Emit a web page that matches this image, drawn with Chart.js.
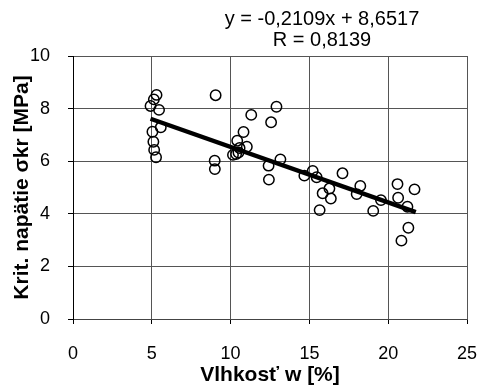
<!DOCTYPE html>
<html>
<head>
<meta charset="utf-8">
<script src="https://cdn.jsdelivr.net/npm/chart.js@4"></script>
<style>
  body { margin: 0; background: #fff; }
  #wrap { width: 481px; height: 390px; }
</style>
</head>
<body>
<div id="wrap"><canvas id="chart" width="481" height="390"></canvas></div>
<script>
// Vlhkosť w [%] a kritické napätie [MPa] - hodnoty odčítané z grafu
const moisture = [
    5.30, 5.13, 4.92, 5.46, 5.57, 5.04, 5.10, 5.15, 5.27,
    9.05, 12.91, 11.31, 12.57, 10.82, 10.42, 11.03, 10.57, 10.15, 10.35, 10.50,
    8.99, 9.00, 13.16, 12.41, 12.43,
    15.21, 14.68, 15.46, 17.10, 16.27, 15.84, 16.36, 15.65, 18.23, 18.00,
    19.54, 19.05, 20.59, 21.67, 20.63, 21.22, 21.28, 20.84
];
const stress = [
    8.52, 8.35, 8.10, 7.95, 7.29, 7.12, 6.74, 6.43, 6.15,
    8.51, 8.07, 7.76, 7.48, 7.11, 6.78, 6.55, 6.50, 6.24, 6.27, 6.33,
    6.02, 5.70, 6.07, 5.83, 5.30,
    5.63, 5.45, 5.39, 5.54, 4.96, 4.78, 4.58, 4.14, 5.06, 4.75,
    4.52, 4.11, 5.13, 4.93, 4.61, 4.27, 3.47, 2.98
];

// Lineárny trend (koncové body)
const trendX = [4.92, 21.75];
const trendY = [7.614, 4.065];

const xTicks = [0, 5, 10, 15, 20, 25];
const yTicks = [0, 2, 4, 6, 8, 10];

const equationText = ['y = -0,2109x + 8,6517', 'R = 0,8139'];

const fontFamily = 'Arial, "Liberation Sans", sans-serif';

const points = moisture.map((x, i) => ({ x: x, y: stress[i] }));
const trend = trendX.map((x, i) => ({ x: x, y: trendY[i] }));

// Text rovnice nad grafom
const equationPlugin = {
    id: 'equation',
    afterDraw(chart) {
        const ctx = chart.ctx;
        ctx.save();
        ctx.fillStyle = '#000';
        ctx.font = '20px ' + fontFamily;
        ctx.textAlign = 'center';
        ctx.textBaseline = 'middle';
        ctx.fillText(equationText[0], 322, 19);
        ctx.fillText(equationText[1], 322, 40);
        ctx.restore();
    }
};

const gridStyle = {
    color: '#555',
    lineWidth: 1,
    borderDash: [2, 1],
    tickLength: 5,
    tickColor: '#000',
    tickBorderDash: [],
    tickWidth: 1
};

new Chart(document.getElementById('chart'), {
    type: 'scatter',
    data: {
        datasets: [{
            label: 'Trend',
            type: 'line',
            data: trend,
            borderColor: '#000',
            borderWidth: 4.5,
            pointRadius: 0,
            fill: false,
            order: 0
        }, {
            label: 'Merania',
            data: points,
            pointRadius: 5.2,
            pointBorderWidth: 1.5,
            borderColor: '#000',
            backgroundColor: 'rgba(0,0,0,0)',
            order: 1
        }]
    },
    options: {
        responsive: false,
        animation: false,
        devicePixelRatio: 1,
        layout: { padding: { left: 0, right: 0, top: 56, bottom: 0 } },
        plugins: {
            legend: { display: false },
            tooltip: { enabled: false }
        },
        scales: {
            x: {
                type: 'linear',
                min: 0,
                max: 25,
                afterBuildTicks: axis => { axis.ticks = xTicks.map(v => ({ value: v })); },
                afterFit: axis => { axis.height = 71; axis.paddingRight = 14; },
                grid: gridStyle,
                border: { display: true, color: '#444', width: 1 },
                ticks: {
                    color: '#000',
                    padding: 19,
                    font: { family: fontFamily, size: 18 }
                },
                title: {
                    display: true,
                    text: 'Vlhkosť w [%]',
                    color: '#000',
                    padding: { top: 0, bottom: 2 },
                    font: { family: fontFamily, size: 21, weight: 'bold' }
                }
            },
            y: {
                type: 'linear',
                min: 0,
                max: 10,
                afterBuildTicks: axis => { axis.ticks = yTicks.map(v => ({ value: v })); },
                afterFit: axis => { axis.width = 73; },
                grid: gridStyle,
                border: { display: true, color: '#000', width: 1 },
                ticks: {
                    color: '#000',
                    padding: 18,
                    font: { family: fontFamily, size: 18 }
                },
                title: {
                    display: true,
                    text: 'Krit. napätie σkr [MPa]',
                    color: '#000',
                    padding: { top: 10, bottom: 0 },
                    font: { family: fontFamily, size: 21, weight: 'bold' }
                }
            }
        }
    },
    plugins: [equationPlugin]
});
</script>
</body>
</html>
